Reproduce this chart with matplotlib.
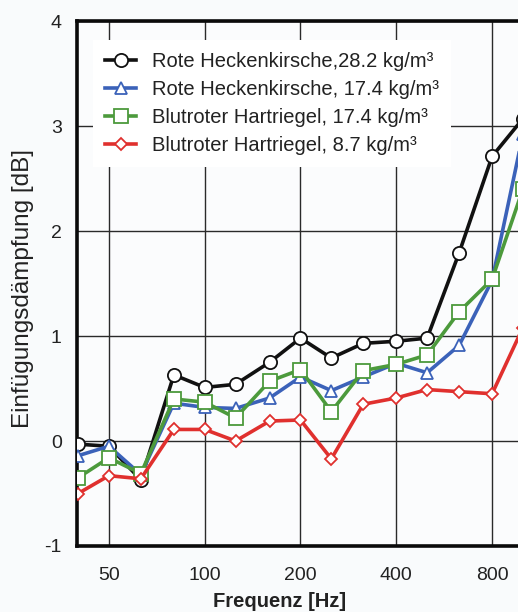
import matplotlib
matplotlib.use("Agg")
import matplotlib.pyplot as plt
from matplotlib.ticker import FixedLocator, FixedFormatter, NullLocator

plt.rcParams['font.family'] = ['Liberation Sans', 'DejaVu Sans']

# third-octave band centre frequencies [Hz]
freq = [40, 50, 63, 80, 100, 125, 160, 200, 250, 315, 400, 500, 630, 800, 1000]

rote_28 = [-0.03, -0.05, -0.37, 0.63, 0.51, 0.54, 0.75, 0.98, 0.79, 0.93, 0.95, 0.98, 1.79, 2.71, 3.07]
rote_17 = [-0.14, -0.05, -0.32, 0.36, 0.32, 0.31, 0.41, 0.61, 0.48, 0.61, 0.74, 0.65, 0.91, 1.53, 2.92]
blut_17 = [-0.35, -0.16, -0.31, 0.40, 0.37, 0.22, 0.57, 0.68, 0.28, 0.67, 0.73, 0.82, 1.23, 1.54, 2.40]
blut_9 = [-0.50, -0.33, -0.36, 0.11, 0.11, 0.00, 0.19, 0.20, -0.17, 0.35, 0.41, 0.49, 0.47, 0.45, 1.08]

labels = ["Rote Heckenkirsche,28.2 kg/m³",
          "Rote Heckenkirsche, 17.4 kg/m³",
          "Blutroter Hartriegel, 17.4 kg/m³",
          "Blutroter Hartriegel, 8.7 kg/m³"]

x_ticks = [50, 100, 200, 400, 800]
x_ticklabels = ["50", "100", "200", "400", "800"]
y_ticks = [-1, 0, 1, 2, 3, 4]
y_ticklabels = ["-1", "0", "1", "2", "3", "4"]

W, H = 518, 612
fig = plt.figure(figsize=(W / 100, H / 100), dpi=100, facecolor='#f9fbfc')
ax = fig.add_axes([77 / W, 1 - 546 / H, (W - 77) / W, 525 / H])
ax.set_facecolor('#fbfcfd')

series = [
    (rote_28, '#111111', 'o', 9.5),
    (rote_17, '#3b62b9', '^', 9.0),
    (blut_17, '#4c9a3c', 's', 9.5),
    (blut_9, '#e0302e', 'D', 6.5),
]
for (vals, col, mk, ms), lab in zip(series, labels):
    ax.plot(freq, vals, color=col, lw=2.6, marker=mk, ms=ms, mfc='white',
            mec=col, mew=1.3, label=lab, zorder=3, clip_on=True)

ax.set_xscale('log')
ax.set_xlim(39.69, 965)
ax.set_ylim(-1, 4)
ax.xaxis.set_major_locator(FixedLocator(x_ticks))
ax.xaxis.set_major_formatter(FixedFormatter(x_ticklabels))
ax.xaxis.set_minor_locator(NullLocator())
ax.yaxis.set_major_locator(FixedLocator(y_ticks))
ax.set_yticklabels(y_ticklabels)

ax.grid(True, which='major', color='#2a2a2a', lw=1.0, zorder=1)
ax.set_axisbelow(True)
ax.tick_params(axis='both', length=0, labelsize=14, colors='#222222')
ax.tick_params(axis='x', pad=15)
ax.tick_params(axis='y', pad=11)

for s in ['left', 'top', 'bottom']:
    ax.spines[s].set_linewidth(2.6)
    ax.spines[s].set_color('#0a0a0a')
ax.spines['right'].set_visible(False)

ax.set_xlabel("Frequenz [Hz]", fontsize=14.5, fontweight='bold', color='#222222')
ax.xaxis.set_label_coords((280 - 77) / (W - 77), -(592 - 546) / 525)
ax.set_ylabel("Einfügungsdämpfung [dB]", fontsize=17.5, color='#222222')
ax.yaxis.set_label_coords(-(77 - 34) / (W - 77), 0.49)

leg = ax.legend(loc='upper left', bbox_to_anchor=((93 - 77) / (W - 77), (546 - 40) / 525),
                borderaxespad=0, fontsize=14.5, frameon=True, facecolor='white',
                edgecolor='none', framealpha=1.0, fancybox=False,
                handlelength=1.55, handletextpad=0.8, labelspacing=0.45, borderpad=0.6)
leg.set_zorder(5)
for t in leg.get_texts():
    t.set_color('#222222')

fig.savefig("out.png", dpi=100, facecolor=fig.get_facecolor())
